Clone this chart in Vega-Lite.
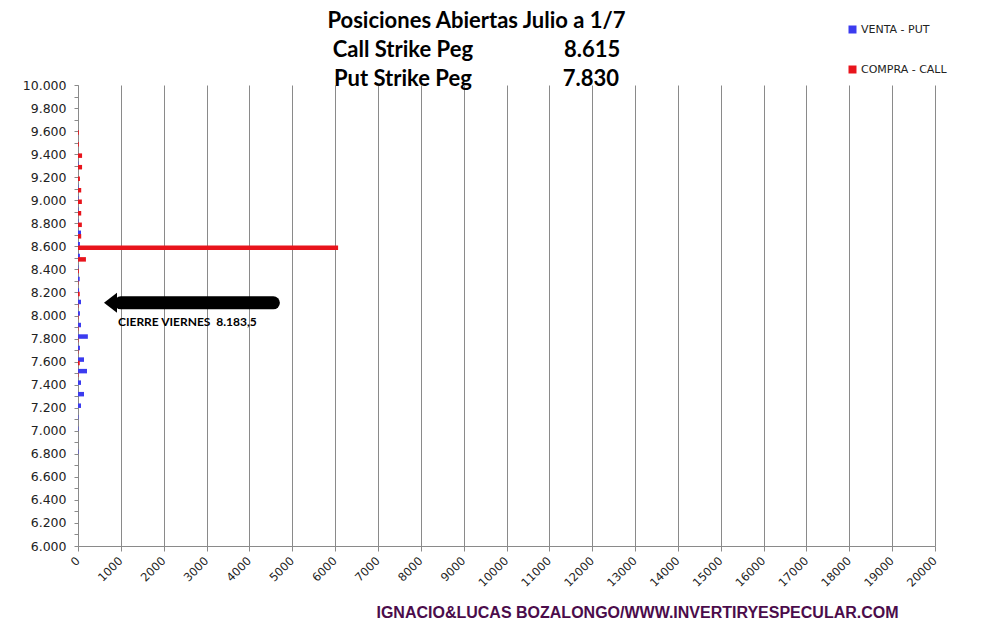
{
  "$schema": "https://vega.github.io/schema/vega-lite/v6.json",
  "width": 857,
  "height": 461,
  "autosize": {"type": "none"},
  "padding": {"left": 78, "top": 85, "right": 50, "bottom": 88},
  "background": "white",
  "config": {"view": {"stroke": null}, "font": "Lato"},
  "title": {
    "text": [
      "Posiciones Abiertas Julio a 1/7",
      "Call Strike Peg\u00a0\u00a0\u00a0\u00a0\u00a0\u00a0\u00a0\u00a0\u00a0\u00a0\u00a0\u00a0\u00a0\u00a0\u00a0\u00a0\u00a08.615",
      "Put Strike Peg\u00a0\u00a0\u00a0\u00a0\u00a0\u00a0\u00a0\u00a0\u00a0\u00a0\u00a0\u00a0\u00a0\u00a0\u00a0\u00a0\u00a07.830"
    ],
    "font": "Lato",
    "fontSize": 22,
    "fontWeight": "bold",
    "lineHeight": 29,
    "color": "black",
    "anchor": "middle",
    "dx": -30,
    "offset": -67
  },
  "datasets": {
    "oi": [
      {"strike": 9600, "tipo": "VENTA - PUT", "contratos": 0},
      {"strike": 9600, "tipo": "COMPRA - CALL", "contratos": 20},
      {"strike": 9500, "tipo": "VENTA - PUT", "contratos": 0},
      {"strike": 9500, "tipo": "COMPRA - CALL", "contratos": 20},
      {"strike": 9400, "tipo": "VENTA - PUT", "contratos": 0},
      {"strike": 9400, "tipo": "COMPRA - CALL", "contratos": 95},
      {"strike": 9300, "tipo": "VENTA - PUT", "contratos": 10},
      {"strike": 9300, "tipo": "COMPRA - CALL", "contratos": 95},
      {"strike": 9200, "tipo": "VENTA - PUT", "contratos": 0},
      {"strike": 9200, "tipo": "COMPRA - CALL", "contratos": 45},
      {"strike": 9100, "tipo": "VENTA - PUT", "contratos": 10},
      {"strike": 9100, "tipo": "COMPRA - CALL", "contratos": 75},
      {"strike": 9000, "tipo": "VENTA - PUT", "contratos": 10},
      {"strike": 9000, "tipo": "COMPRA - CALL", "contratos": 90},
      {"strike": 8900, "tipo": "VENTA - PUT", "contratos": 10},
      {"strike": 8900, "tipo": "COMPRA - CALL", "contratos": 75},
      {"strike": 8800, "tipo": "VENTA - PUT", "contratos": 10},
      {"strike": 8800, "tipo": "COMPRA - CALL", "contratos": 90},
      {"strike": 8700, "tipo": "VENTA - PUT", "contratos": 70},
      {"strike": 8700, "tipo": "COMPRA - CALL", "contratos": 75},
      {"strike": 8600, "tipo": "VENTA - PUT", "contratos": 45},
      {"strike": 8600, "tipo": "COMPRA - CALL", "contratos": 6070},
      {"strike": 8500, "tipo": "VENTA - PUT", "contratos": 45},
      {"strike": 8500, "tipo": "COMPRA - CALL", "contratos": 185},
      {"strike": 8400, "tipo": "VENTA - PUT", "contratos": 10},
      {"strike": 8400, "tipo": "COMPRA - CALL", "contratos": 20},
      {"strike": 8300, "tipo": "VENTA - PUT", "contratos": 40},
      {"strike": 8300, "tipo": "COMPRA - CALL", "contratos": 10},
      {"strike": 8200, "tipo": "VENTA - PUT", "contratos": 25},
      {"strike": 8200, "tipo": "COMPRA - CALL", "contratos": 40},
      {"strike": 8100, "tipo": "VENTA - PUT", "contratos": 70},
      {"strike": 8100, "tipo": "COMPRA - CALL", "contratos": 10},
      {"strike": 8000, "tipo": "VENTA - PUT", "contratos": 45},
      {"strike": 8000, "tipo": "COMPRA - CALL", "contratos": 10},
      {"strike": 7900, "tipo": "VENTA - PUT", "contratos": 70},
      {"strike": 7900, "tipo": "COMPRA - CALL", "contratos": 10},
      {"strike": 7800, "tipo": "VENTA - PUT", "contratos": 230},
      {"strike": 7800, "tipo": "COMPRA - CALL", "contratos": 10},
      {"strike": 7700, "tipo": "VENTA - PUT", "contratos": 45},
      {"strike": 7700, "tipo": "COMPRA - CALL", "contratos": 10},
      {"strike": 7600, "tipo": "VENTA - PUT", "contratos": 140},
      {"strike": 7600, "tipo": "COMPRA - CALL", "contratos": 40},
      {"strike": 7500, "tipo": "VENTA - PUT", "contratos": 210},
      {"strike": 7500, "tipo": "COMPRA - CALL", "contratos": 10},
      {"strike": 7400, "tipo": "VENTA - PUT", "contratos": 70},
      {"strike": 7300, "tipo": "VENTA - PUT", "contratos": 140},
      {"strike": 7200, "tipo": "VENTA - PUT", "contratos": 70},
      {"strike": 7100, "tipo": "VENTA - PUT", "contratos": 10},
      {"strike": 7000, "tipo": "VENTA - PUT", "contratos": 10},
      {"strike": 6800, "tipo": "VENTA - PUT", "contratos": 10}
    ],
    "nota": [
      {"contratos": 1000, "fin": 4560, "strike": 8110, "punta": 758, "texto": "CIERRE VIERNES\u00a0\u00a08.183,5", "xtexto": 933, "ytexto": 7944}
    ]
  },
  "resolve": {"axis": {"y": "independent"}},
  "layer": [
    {
      "data": {"name": "oi"},
      "transform": [{"filter": "datum.tipo == 'VENTA - PUT'"}],
      "mark": {"type": "bar", "orient": "horizontal", "size": 4.5, "yOffset": -2},
      "encoding": {
        "x": {
          "field": "contratos", "type": "quantitative",
          "scale": {"domain": [0, 20000], "nice": false},
          "axis": {
            "title": "IGNACIO&LUCAS BOZALONGO/WWW.INVERTIRYESPECULAR.COM",
            "titleFont": "Liberation Sans", "titleFontSize": 16, "titleFontWeight": "bold",
            "titleColor": "#4B0C4B", "titleX": 559, "titleY": 71, "titleAlign": "center",
            "titleBaseline": "alphabetic",
            "values": [0,1000,2000,3000,4000,5000,6000,7000,8000,9000,10000,11000,12000,13000,14000,15000,16000,17000,18000,19000,20000],
            "format": "d",
            "grid": true, "gridColor": "#8A8A8A", "gridWidth": 1, "gridOpacity": 1,
            "domainColor": "#8A8A8A", "tickColor": "#8A8A8A", "tickSize": 5,
            "labelAngle": -45, "labelAlign": "right", "labelBaseline": "middle",
            "labelPadding": 8, "labelFont": "DejaVu Sans", "labelFontSize": 11.5, "labelColor": "#222",
            "labelOverlap": false
          }
        },
        "y": {
          "field": "strike", "type": "quantitative",
          "scale": {"domain": [6000, 10000], "nice": false, "zero": false, "padding": 0},
          "axis": {
            "title": null,
            "orient": "left",
            "values": [6000,6200,6400,6600,6800,7000,7200,7400,7600,7800,8000,8200,8400,8600,8800,9000,9200,9400,9600,9800,10000],
            "labelExpr": "replace(format(datum.value, ','), ',', '.')",
            "grid": false,
            "domainColor": "#8A8A8A", "tickColor": "#8A8A8A", "tickSize": 4,
            "labelPadding": 8, "labelFont": "DejaVu Sans", "labelFontSize": 12.5, "labelColor": "#222",
            "labelOverlap": false
          }
        },
        "color": {
          "field": "tipo", "type": "nominal",
          "scale": {"domain": ["VENTA - PUT", "COMPRA - CALL"], "range": ["#3B3BEF", "#E8141C"]},
          "legend": {
            "orient": "none", "legendX": 769, "legendY": -61, "title": null,
            "symbolType": "square", "symbolSize": 64, "symbolStrokeWidth": 0,
            "rowPadding": 28, "labelOffset": 3,
            "labelFont": "DejaVu Sans", "labelFontSize": 11, "labelColor": "#222"
          }
        }
      }
    },
    {
      "data": {"name": "oi"},
      "transform": [{"filter": "datum.tipo == 'COMPRA - CALL'"}],
      "mark": {"type": "bar", "orient": "horizontal", "size": 4.5, "yOffset": 1.5},
      "encoding": {
        "x": {"field": "contratos", "type": "quantitative"},
        "y": {
          "field": "strike", "type": "quantitative",
          "axis": {
            "title": null,
            "orient": "left",
            "values": [6100,6300,6500,6700,6900,7100,7300,7500,7700,7900,8100,8300,8500,8700,8900,9100,9300,9500,9700,9900],
            "labels": false,
            "domain": false,
            "grid": false,
            "tickColor": "#8A8A8A", "tickSize": 4
          }
        },
        "color": {"field": "tipo", "type": "nominal"}
      }
    },
    {
      "data": {"name": "nota"},
      "mark": {"type": "rule", "color": "black", "strokeWidth": 13, "strokeCap": "round"},
      "encoding": {
        "x": {"field": "contratos", "type": "quantitative"},
        "x2": {"field": "fin"},
        "y": {"field": "strike", "type": "quantitative", "axis": null}
      }
    },
    {
      "data": {"name": "nota"},
      "mark": {"type": "point", "shape": "M -0.65 0 L 0.65 -1 L 0.65 1 Z", "filled": true, "color": "black", "opacity": 1, "size": 400},
      "encoding": {
        "x": {"field": "punta", "type": "quantitative"},
        "y": {"field": "strike", "type": "quantitative", "axis": null}
      }
    },
    {
      "data": {"name": "nota"},
      "mark": {"type": "text", "font": "Lato", "fontWeight": "bold", "fontSize": 12, "align": "left", "baseline": "middle", "color": "black"},
      "encoding": {
        "x": {"field": "xtexto", "type": "quantitative"},
        "y": {"field": "ytexto", "type": "quantitative", "axis": null},
        "text": {"field": "texto"}
      }
    }
  ]
}
